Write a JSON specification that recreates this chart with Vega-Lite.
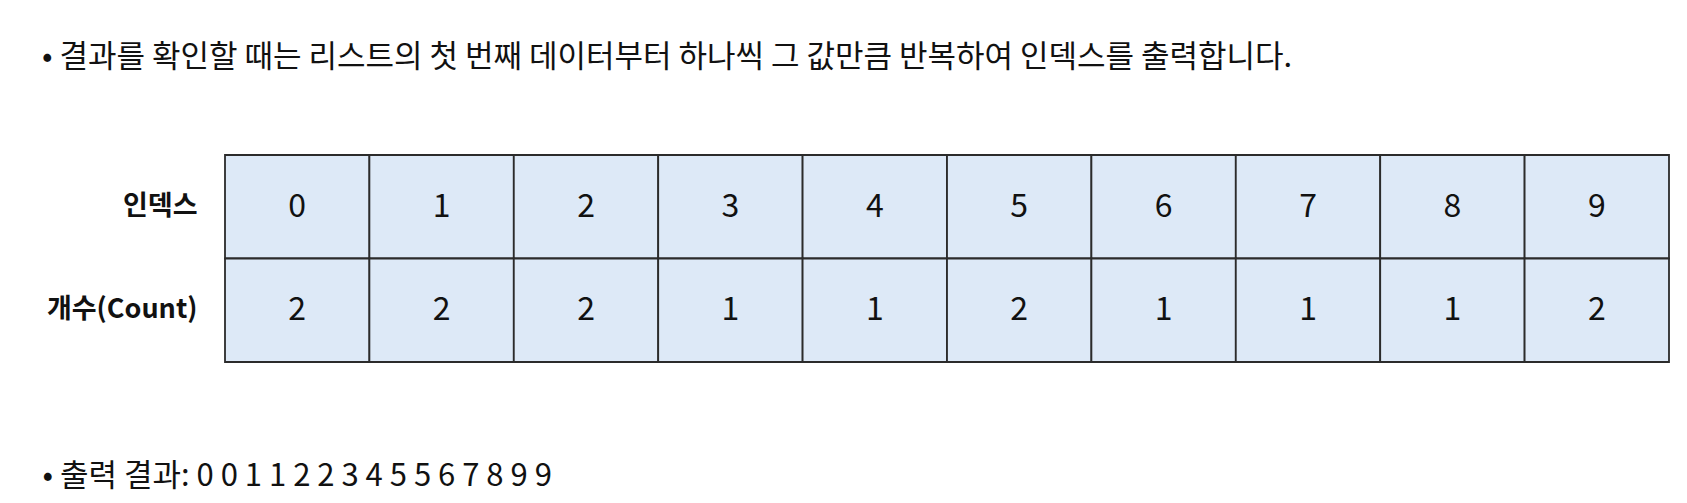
{
  "$schema": "https://vega.github.io/schema/vega-lite/v6.json",
  "width": 1444,
  "height": 207,
  "autosize": "none",
  "padding": {"left": 225, "top": 155, "right": 18, "bottom": 141},
  "background": "white",
  "config": {"view": {"stroke": null}, "font": "Noto Sans CJK KR"},
  "title": {
    "text": "•   결과를 확인할 때는 리스트의 첫 번째 데이터부터 하나씩 그 값만큼 반복하여 인덱스를 출력합니다.",
    "anchor": "start",
    "frame": "group",
    "dx": -183,
    "offset": 80,
    "fontSize": 31,
    "fontWeight": "normal",
    "color": "#111"
  },
  "data": {
    "values": [
      {"col": 0, "row": "인덱스", "val": "0"}, {"col": 1, "row": "인덱스", "val": "1"},
      {"col": 2, "row": "인덱스", "val": "2"}, {"col": 3, "row": "인덱스", "val": "3"},
      {"col": 4, "row": "인덱스", "val": "4"}, {"col": 5, "row": "인덱스", "val": "5"},
      {"col": 6, "row": "인덱스", "val": "6"}, {"col": 7, "row": "인덱스", "val": "7"},
      {"col": 8, "row": "인덱스", "val": "8"}, {"col": 9, "row": "인덱스", "val": "9"},
      {"col": 0, "row": "개수(Count)", "val": "2"}, {"col": 1, "row": "개수(Count)", "val": "2"},
      {"col": 2, "row": "개수(Count)", "val": "2"}, {"col": 3, "row": "개수(Count)", "val": "1"},
      {"col": 4, "row": "개수(Count)", "val": "1"}, {"col": 5, "row": "개수(Count)", "val": "2"},
      {"col": 6, "row": "개수(Count)", "val": "1"}, {"col": 7, "row": "개수(Count)", "val": "1"},
      {"col": 8, "row": "개수(Count)", "val": "1"}, {"col": 9, "row": "개수(Count)", "val": "2"}
    ]
  },
  "encoding": {
    "x": {
      "field": "col", "type": "ordinal",
      "scale": {"paddingInner": 0, "paddingOuter": 0},
      "axis": {
        "labels": false, "ticks": false, "domain": false,
        "title": "•   출력 결과: 0 0 1 1 2 2 3 4 5 5 6 7 8 9 9",
        "titleAnchor": "start", "titleAlign": "left", "titleBaseline": "middle",
        "titleX": -183, "titleY": 114,
        "titleFontSize": 31, "titleFontWeight": "normal", "titleColor": "#111"
      }
    },
    "y": {
      "field": "row", "type": "ordinal",
      "sort": ["인덱스", "개수(Count)"],
      "scale": {"paddingInner": 0, "paddingOuter": 0},
      "axis": {
        "title": null, "ticks": false, "domain": false,
        "labelFontSize": 27, "labelFontWeight": "bold", "labelColor": "#111",
        "labelPadding": 28
      }
    }
  },
  "layer": [
    {
      "mark": {"type": "rect", "fill": "#dde9f7", "stroke": "#2b2b2b", "strokeWidth": 1.8}
    },
    {
      "mark": {"type": "text", "fontSize": 32, "color": "#111"},
      "encoding": {
        "text": {"field": "val"},
        "fontWeight": {
          "field": "row", "type": "nominal",
          "scale": {"domain": ["인덱스", "개수(Count)"], "range": ["bold", "normal"]},
          "legend": null
        }
      }
    }
  ]
}
